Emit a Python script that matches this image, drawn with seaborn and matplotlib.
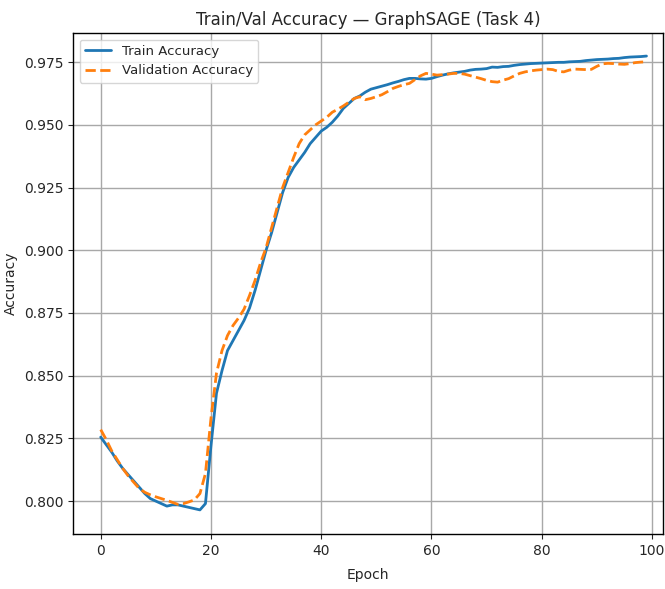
import numpy as np
import pandas as pd
import matplotlib
matplotlib.use("Agg")
import matplotlib.pyplot as plt
import seaborn as sns

# gia tri doc tu hinh (epoch 0..99)
train_acc = [
    0.8255, 0.8225, 0.8195, 0.8160, 0.8130, 0.8105, 0.8080, 0.8055, 0.8030, 0.8010,
    0.8000, 0.7990, 0.7980, 0.7985, 0.7985, 0.7980, 0.7975, 0.7970, 0.7965, 0.7990,
    0.8220, 0.8430, 0.8520, 0.8600, 0.8640, 0.8680, 0.8720, 0.8770, 0.8840, 0.8920,
    0.9000, 0.9070, 0.9150, 0.9230, 0.9290, 0.9330, 0.9360, 0.9390, 0.9425, 0.9450,
    0.9475, 0.9490, 0.9510, 0.9535, 0.9565, 0.9585, 0.9605, 0.9615, 0.9630, 0.9642,
    0.9648, 0.9654, 0.9660, 0.9667, 0.9673, 0.9680, 0.9685, 0.9685, 0.9683, 0.9682,
    0.9685, 0.9692, 0.9698, 0.9703, 0.9707, 0.9710, 0.9713, 0.9718, 0.9721, 0.9722,
    0.9724, 0.9730, 0.9729, 0.9732, 0.9733, 0.9737, 0.9740, 0.9742, 0.9744, 0.9745,
    0.9746, 0.9747, 0.9748, 0.9749, 0.9749, 0.9751, 0.9752, 0.9753, 0.9756, 0.9758,
    0.9760, 0.9761, 0.9762, 0.9764, 0.9765, 0.9768, 0.9770, 0.9771, 0.9772, 0.9774,
]
val_acc = [
    0.8285, 0.8245, 0.8200, 0.8165, 0.8130, 0.8100, 0.8075, 0.8050, 0.8035, 0.8025,
    0.8017, 0.8010, 0.8003, 0.7995, 0.7987, 0.7990, 0.7997, 0.8005, 0.8030, 0.8110,
    0.8330, 0.8510, 0.8600, 0.8660, 0.8700, 0.8730, 0.8765, 0.8820, 0.8880, 0.8950,
    0.9010, 0.9090, 0.9170, 0.9250, 0.9310, 0.9370, 0.9425, 0.9460, 0.9480, 0.9500,
    0.9515, 0.9530, 0.9550, 0.9562, 0.9575, 0.9590, 0.9605, 0.9612, 0.9600, 0.9605,
    0.9612, 0.9620, 0.9632, 0.9645, 0.9653, 0.9660, 0.9665, 0.9680, 0.9695, 0.9705,
    0.9702, 0.9698, 0.9700, 0.9702, 0.9705, 0.9705, 0.9702, 0.9696, 0.9690, 0.9684,
    0.9677, 0.9672, 0.9670, 0.9678, 0.9684, 0.9695, 0.9705, 0.9711, 0.9715, 0.9718,
    0.9720, 0.9722, 0.9720, 0.9713, 0.9711, 0.9718, 0.9722, 0.9721, 0.9720, 0.9721,
    0.9733, 0.9743, 0.9745, 0.9744, 0.9742, 0.9741, 0.9744, 0.9748, 0.9750, 0.9751,
]
epochs = list(range(len(train_acc)))

df = pd.DataFrame({"epoch": epochs, "train": train_acc, "val": val_acc})

sns.set_style("ticks")
plt.rcParams['font.family'] = ['DejaVu Sans']

fig = plt.figure(figsize=(6.65, 5.89), dpi=100)
ax = fig.add_axes([0.11, 0.093, 0.887, 0.851])

sns.lineplot(data=df, x="epoch", y="train", ax=ax, color="#1f77b4",
             linewidth=2, label="Train Accuracy")
sns.lineplot(data=df, x="epoch", y="val", ax=ax, color="#ff7f0e",
             linewidth=2, linestyle="--", label="Validation Accuracy")

ax.set_xlim(-5, 102)
ax.set_ylim(0.7868, 0.9866)
ax.set_xticks([0, 20, 40, 60, 80, 100])
ax.set_yticks([0.800, 0.825, 0.850, 0.875, 0.900, 0.925, 0.950, 0.975])
ax.set_yticklabels([f"{v:.3f}" for v in ax.get_yticks()])
ax.grid(True, color="#a8a8a8", linewidth=1)
for s in ax.spines.values():
    s.set_color("black")
    s.set_linewidth(1)

ax.set_title("Train/Val Accuracy — GraphSAGE (Task 4)", fontsize=12)
ax.set_xlabel("Epoch", fontsize=10)
ax.set_ylabel("Accuracy", fontsize=10, labelpad=4)
ax.xaxis.set_label_coords(0.5, -0.068)
ax.tick_params(labelsize=10)
ax.legend(loc="upper left", fontsize=9.5)

plt.savefig("out.png", dpi=100)
plt.close()
